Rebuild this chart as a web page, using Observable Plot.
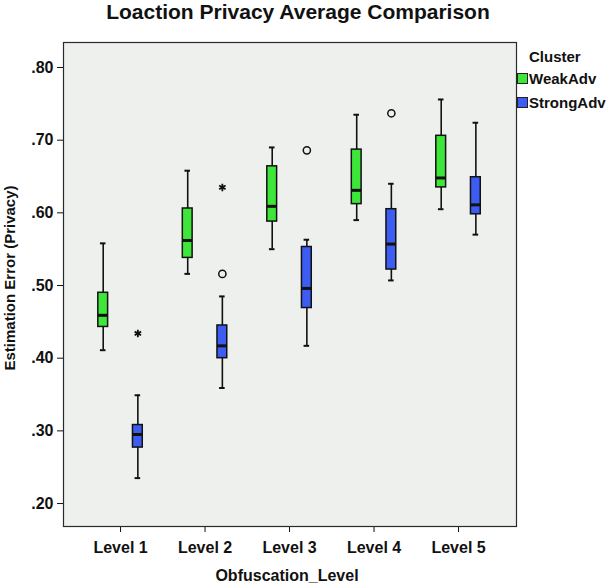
<!DOCTYPE html>
<html>
<head>
<meta charset="utf-8">
<script src="https://cdn.jsdelivr.net/npm/d3@7"></script>
<script src="https://cdn.jsdelivr.net/npm/@observablehq/plot@0.6"></script>
<style>
  html, body { margin: 0; padding: 0; background: #fff; }
  #wrap { position: relative; width: 615px; height: 585px; font-family: "Liberation Sans", Arial, sans-serif; font-weight: bold; color: #111; }
  #title { height: 26px; line-height: 24px; text-align: center; font-size: 21px; width: 596px; color: #111; }
  .abs { position: absolute; white-space: nowrap; color: #111; }
  #ylab { left: 9px; top: 278px; font-size: 15px; transform: translate(-50%, -50%) rotate(-90deg); }
  #xlab { left: 287px; top: 576px; font-size: 16px; transform: translate(-50%, -50%); }
  #legend { left: 517px; top: 48px; font-size: 15px; }
  #legend .t { margin-left: 12px; line-height: 18px; }
  #legend .row { display: flex; align-items: center; height: 24px; }
  #legend .sw { width: 9px; height: 9px; border: 1px solid #222; margin-right: 1px; }
</style>
</head>
<body>
<div id="wrap">
  <div id="title">Loaction Privacy Average Comparison</div>
  <div id="chart"></div>
  <div id="ylab" class="abs">Estimation Error (Privacy)</div>
  <div id="xlab" class="abs">Obfuscation_Level</div>
  <div id="legend" class="abs"></div>
</div>
<script>
const levels = ["Level 1", "Level 2", "Level 3", "Level 4", "Level 5"];
const clusters = ["WeakAdv", "StrongAdv"];
const clusterColors = ["#3ee63a", "#3d5cf2"];

// Box-plot summaries (lower whisker, Q1, median, Q3, upper whisker)
const weakLow  = [0.411, 0.516, 0.550, 0.590, 0.605];
const weakQ1   = [0.443, 0.538, 0.588, 0.612, 0.635];
const weakMed  = [0.459, 0.562, 0.609, 0.631, 0.648];
const weakQ3   = [0.490, 0.606, 0.664, 0.687, 0.706];
const weakHigh = [0.558, 0.658, 0.690, 0.735, 0.756];

const strongLow  = [0.235, 0.359, 0.417, 0.507, 0.570];
const strongQ1   = [0.277, 0.400, 0.469, 0.522, 0.598];
const strongMed  = [0.295, 0.417, 0.496, 0.557, 0.611];
const strongQ3   = [0.308, 0.445, 0.553, 0.605, 0.649];
const strongHigh = [0.349, 0.485, 0.563, 0.640, 0.724];

// Outliers (circles) and extremes (stars): level index, cluster, value
const outlierLevel   = [2, 3, 4];
const outlierCluster = ["StrongAdv", "StrongAdv", "StrongAdv"];
const outlierValue   = [0.516, 0.686, 0.737];
const extremeLevel   = [1, 2];
const extremeCluster = ["StrongAdv", "StrongAdv"];
const extremeValue   = [0.434, 0.635];

const yTicks = [0.20, 0.30, 0.40, 0.50, 0.60, 0.70, 0.80];

// layout helpers (data units on the linear x scale)
const groupOffset = 0.205;
const boxHalf = 0.058;
const capHalf = 0.033;
const xPos = (lvl, cl) => lvl + (cl === "WeakAdv" ? -groupOffset : groupOffset);

const boxes = [];
levels.forEach((name, i) => {
  const lvl = i + 1;
  boxes.push({lvl, cluster: "WeakAdv", low: weakLow[i], q1: weakQ1[i], med: weakMed[i], q3: weakQ3[i], high: weakHigh[i]});
  boxes.push({lvl, cluster: "StrongAdv", low: strongLow[i], q1: strongQ1[i], med: strongMed[i], q3: strongQ3[i], high: strongHigh[i]});
});
boxes.forEach(d => { d.x = xPos(d.lvl, d.cluster); });
const outliers = outlierLevel.map((l, i) => ({x: xPos(l, outlierCluster[i]), v: outlierValue[i]}));
const extremes = extremeLevel.map((l, i) => ({x: xPos(l, extremeCluster[i]), v: extremeValue[i]}));

const plot = Plot.plot({
  width: 615,
  height: 559,
  marginTop: 16,
  marginBottom: 59,
  marginLeft: 63,
  marginRight: 99,
  style: {fontFamily: '"Liberation Sans", Arial, sans-serif', fontWeight: "bold", fontSize: "16px", color: "#111", background: "transparent", overflow: "visible"},
  x: {type: "linear", domain: [0.325, 5.686], ticks: [1, 2, 3, 4, 5], tickFormat: d => levels[d - 1], tickSize: 6, tickPadding: 9, label: null},
  y: {domain: [0.1684, 0.8344], ticks: yTicks, tickFormat: d => d.toFixed(2).replace(/^0/, ""), tickSize: 6, tickPadding: 4, label: null},
  color: {domain: clusters, range: clusterColors},
  marks: [
    Plot.frame({fill: "#eef0ee", stroke: "#2a2a2a", strokeWidth: 1.2}),
    Plot.ruleX(boxes, {x: "x", y1: "low", y2: "high", stroke: "#111", strokeWidth: 1.6}),
    Plot.ruleY(boxes, {y: "low", x1: d => d.x - capHalf, x2: d => d.x + capHalf, stroke: "#111", strokeWidth: 2}),
    Plot.ruleY(boxes, {y: "high", x1: d => d.x - capHalf, x2: d => d.x + capHalf, stroke: "#111", strokeWidth: 2}),
    Plot.rect(boxes, {x1: d => d.x - boxHalf, x2: d => d.x + boxHalf, y1: "q1", y2: "q3", fill: "cluster", stroke: "#111", strokeWidth: 1.5}),
    Plot.ruleY(boxes, {y: "med", x1: d => d.x - boxHalf, x2: d => d.x + boxHalf, stroke: "#111", strokeWidth: 3}),
    Plot.dot(outliers, {x: "x", y: "v", r: 3.6, stroke: "#111", strokeWidth: 1.5, fill: "none"}),
    Plot.dot(extremes, {x: "x", y: "v", r: 3.5, symbol: "asterisk", stroke: "#111", strokeWidth: 1.8})
  ]
});
document.getElementById("chart").appendChild(plot);

const legend = document.getElementById("legend");
legend.innerHTML = `<div class="t">Cluster</div>` + clusters.map((c, i) =>
  `<div class="row"><span class="sw" style="background:${clusterColors[i]}"></span><span>${c}</span></div>`).join("");
</script>
</body>
</html>
